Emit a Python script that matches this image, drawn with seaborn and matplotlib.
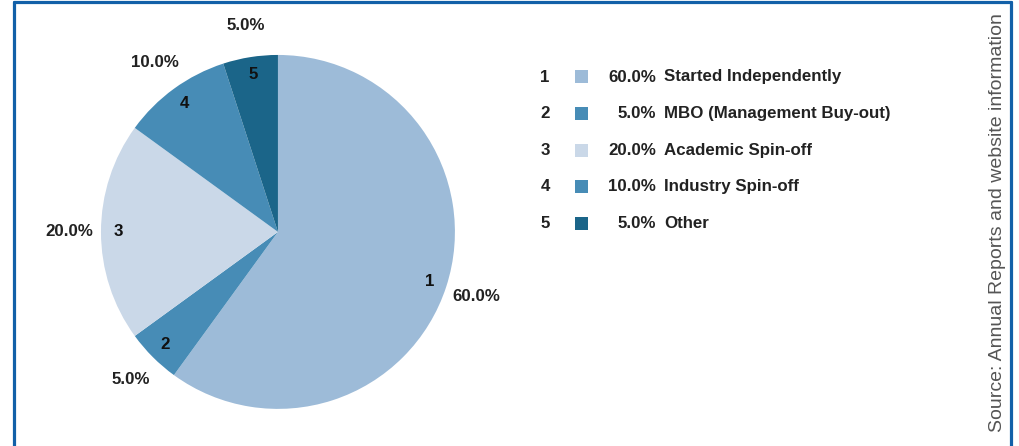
import matplotlib.pyplot as plt
from matplotlib.patches import Rectangle
from matplotlib.lines import Line2D
import numpy as np
import seaborn as sns

# ---------------- data ----------------
ids = ["1", "2", "3", "4", "5"]
shares = [60.0, 5.0, 20.0, 10.0, 5.0]
names = ["Started Independently", "MBO (Management Buy-out)",
         "Academic Spin-off", "Industry Spin-off", "Other"]
colors = ["#9dbbd8", "#478cb6", "#cad8e8", "#478cb6", "#1b6589"]
source = "Source: Annual Reports and website information"

sns.set_theme(style="white")
plt.rcParams['font.family'] = ['Liberation Sans', 'DejaVu Sans']

fig = plt.figure(figsize=(10.2, 4.46), dpi=100)
ax = fig.add_axes([0.099, 0.083, 0.347, 0.794])

fs = 12.2
wedges, pct_texts = ax.pie(
    shares, colors=sns.color_palette(colors), startangle=90, counterclock=False,
    labels=[f"{s:.1f}%" for s in shares], labeldistance=1.18,
    wedgeprops=dict(linewidth=0), radius=1,
    textprops=dict(fontsize=fs, fontweight='bold', color='#222222'))
for t in pct_texts:
    t.set_ha('center')
    t.set_va('center')

# slice numbers inside the wedges
for w, num in zip(wedges, ids):
    mid = np.deg2rad((w.theta1 + w.theta2) / 2)
    ax.text(0.9 * np.cos(mid), 0.9 * np.sin(mid), num, ha='center', va='center',
            fontsize=fs, fontweight='bold', color='#111111')
ax.set_xlim(-1, 1)
ax.set_ylim(-1, 1)
ax.set_aspect('equal')

# legend drawn as a small table
W, H = 1020, 446
row_y = 77
for num, s, name, c in zip(ids, shares, names, colors):
    fy = 1 - row_y / H
    fig.text(545 / W, fy, num, ha='center', va='center', fontsize=fs,
             fontweight='bold', color='#222222')
    fig.patches.append(Rectangle((575 / W, fy - 6.5 / H), 13 / W, 13 / H,
                                 transform=fig.transFigure, color=c, lw=0))
    fig.text(656 / W, fy, f"{s:.1f}%", ha='right', va='center', fontsize=fs,
             fontweight='bold', color='#222222')
    fig.text(664 / W, fy, name, ha='left', va='center', fontsize=fs,
             fontweight='bold', color='#222222')
    row_y += 36.5

fig.text(998 / W, 0.5, source, rotation=90, ha='center', va='center',
         fontsize=14, color='#555555')

# blue frame (left, top, right)
bc = '#1260a8'
fig.add_artist(Line2D([14 / W, 14 / W], [0, 1 - 2 / H], color=bc, lw=2.3,
                      transform=fig.transFigure))
fig.add_artist(Line2D([14 / W, 1011 / W], [1 - 2 / H, 1 - 2 / H], color=bc, lw=2.3,
                      transform=fig.transFigure))
fig.add_artist(Line2D([1011 / W, 1011 / W], [0, 1 - 2 / H], color=bc, lw=2.3,
                      transform=fig.transFigure))

fig.savefig("out.png", dpi=100)
